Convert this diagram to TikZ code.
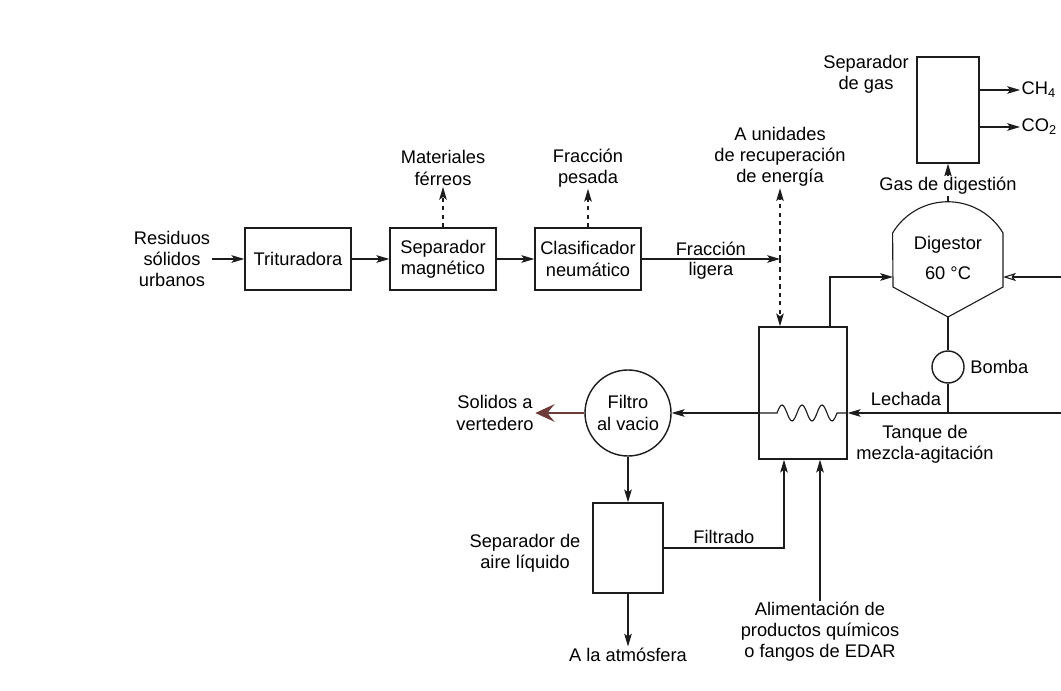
\documentclass[tikz,border=0pt]{standalone}
\usepackage{fontspec}
\setmainfont{Liberation Sans}
\usetikzlibrary{arrows.meta,positioning,calc}
\definecolor{ink}{HTML}{1C1C1C}
\definecolor{rust}{HTML}{6E3B3B}
\tikzset{
  box/.style={draw=ink, line width=1pt, align=center, inner sep=1mm, minimum width=26.5mm, minimum height=15.5mm},
  tallbox/.style={draw=ink, line width=1pt},
  roundbox/.style={circle, draw=ink, line width=1pt, align=center, inner sep=0pt},
  lbl/.style={align=center, inner sep=1pt},
  pipe/.style={line width=0.8pt, draw=ink},
  arrow/.style={-{Stealth[length=3.2mm,width=1.9mm,inset=0.7mm]}, line width=0.8pt, draw=ink},
  openarrow/.style={-{Stealth[open,length=3.2mm,width=2mm,inset=0.7mm]}, line width=0.8pt, draw=ink},
  thickarrow/.style={-{Stealth[length=4.8mm,width=4.4mm,inset=1.8mm]}, line width=1.8pt, draw=rust}
}

\begin{document}
\begin{tikzpicture}[x=0.25mm, y=-0.25mm, every node/.style={font=\fontsize{13pt}{15pt}\selectfont}]
  \useasboundingbox[fill=white] (0,0) rectangle (1061,691);
  \node[box] (trit) at (298,259) {Trituradora};
  \node[box] (sepmag) at (443,259) {Separador\\magnético};
  \node[box] (clas) at (588,259) {Clasificador\\neumático};
  \node[lbl] (rsu) at (172,259) {Residuos\\sólidos\\urbanos};
  \node[lbl] (ferr) at (443,168) {Materiales\\férreos};
  \node[lbl] (pes) at (588,168) {Fracción\\pesada};
  \node[lbl] (energ) at (780,157) {A unidades\\de recuperación\\de energía};
  \coordinate (split) at (780,259);
  \draw[arrow] (rsu.east) -- (trit.west);
  \draw[arrow] (trit) -- (sepmag);
  \draw[arrow] (sepmag) -- (clas);
  \draw[arrow, dashed] (sepmag) -- (ferr);
  \draw[arrow, dashed] (clas) -- (pes);
  \draw[arrow] (clas.east) -- node[lbl, above=1pt] (lig1) {Fracción} node[lbl, below=1pt] (lig2) {ligera} (split);
  \draw[arrow, dashed] (split) -- (energ);

  \node[tallbox, minimum width=22mm, minimum height=33mm] (tank) at (803,393) {};
  \draw[arrow, dashed] (split) -- (split |- tank.north);

  \coordinate (dig-n) at (948,202);
  \coordinate (dig-s) at (948,317);
  \coordinate (dig-w) at (893,277);
  \coordinate (dig-e) at (1003,277);
  \draw[pipe] (dig-s) -- (1003,287) -- (1003,233) arc[start angle=31, end angle=149, radius=16.1mm] -- (893,287) -- cycle;
  \node[lbl] (dig) at (948,258) {Digestor\\[2.2mm]60 °C};

  \node[tallbox, minimum width=15.5mm, minimum height=26.5mm] (gas) at (948,110) {};
  \node[lbl] (gaslbl) at (866,74) {Separador\\de gas};
  \draw[arrow] (dig-n) -- node[lbl, fill=white, pos=0.42] (gasdig) {Gas de digestión} (gas);
  \node[lbl, anchor=west] (ch4) at (1020,90) {CH\textsubscript{4}};
  \node[lbl, anchor=west] (co2) at (1020,127) {CO\textsubscript{2}};
  \draw[arrow] (gas.east |- ch4) -- (ch4);
  \draw[arrow] (gas.east |- co2) -- (co2);

  \coordinate (rin) at (1061,277);
  \draw[openarrow] (rin) -- (dig-e);
  \draw[arrow] ([xshift=6.75mm]tank.north) |- (dig-w);

  \node[roundbox, minimum size=8mm] (pump) at (948,367) {};
  \node[lbl, right=1mm of pump] (bomba) {Bomba};
  \coordinate (lech) at (948,413);
  \coordinate (lin) at (1061,413);
  \draw[pipe] (dig-s) -- (pump);
  \draw[pipe] (pump) -- (lech);
  \draw[arrow] (lin) -- (tank.east |- lech);
  \node[lbl] (lechlbl) at (906,399) {Lechada};
  \node[lbl] (tanklbl) at (925,444) {Tanque de\\mezcla-agitación};
  \draw[pipe] (tank.east |- lech) -- (837,413) sin (832,421) cos (827,413) sin (822,405) cos (817,413) sin (812,421) cos (807,413) sin (802,405) cos (797,413) sin (792,421) cos (787,413) sin (782,405) cos (777,413) -- (tank.west |- lech);

  \node[roundbox, minimum size=21.5mm] (filtro) at (628,413) {Filtro\\al vacio};
  \draw[arrow] (tank.west |- lech) -- (filtro);
  \node[lbl] (solidos) at (495,413) {Solidos a\\vertedero};
  \draw[thickarrow] (filtro) -- (solidos);

  \node[tallbox, minimum width=17.5mm, minimum height=22.5mm] (aire) at (628,548) {};
  \node[lbl] (airelbl) at (525,553) {Separador de\\aire líquido};
  \draw[arrow] (filtro) -- (aire);
  \node[lbl] (atm) at (628,655) {A la atmósfera};
  \draw[arrow] (aire) -- (atm);
  \draw[arrow] (aire.east) -| node[lbl, above=2pt, pos=0.25] (filtlbl) {Filtrado} ([xshift=-4.75mm]tank.south);
  \node[lbl] (alim) at (820,632) {Alimentación de\\productos químicos\\o fangos de EDAR};
  \draw[arrow] (alim) -- (alim |- tank.south);
\end{tikzpicture}
\end{document}
